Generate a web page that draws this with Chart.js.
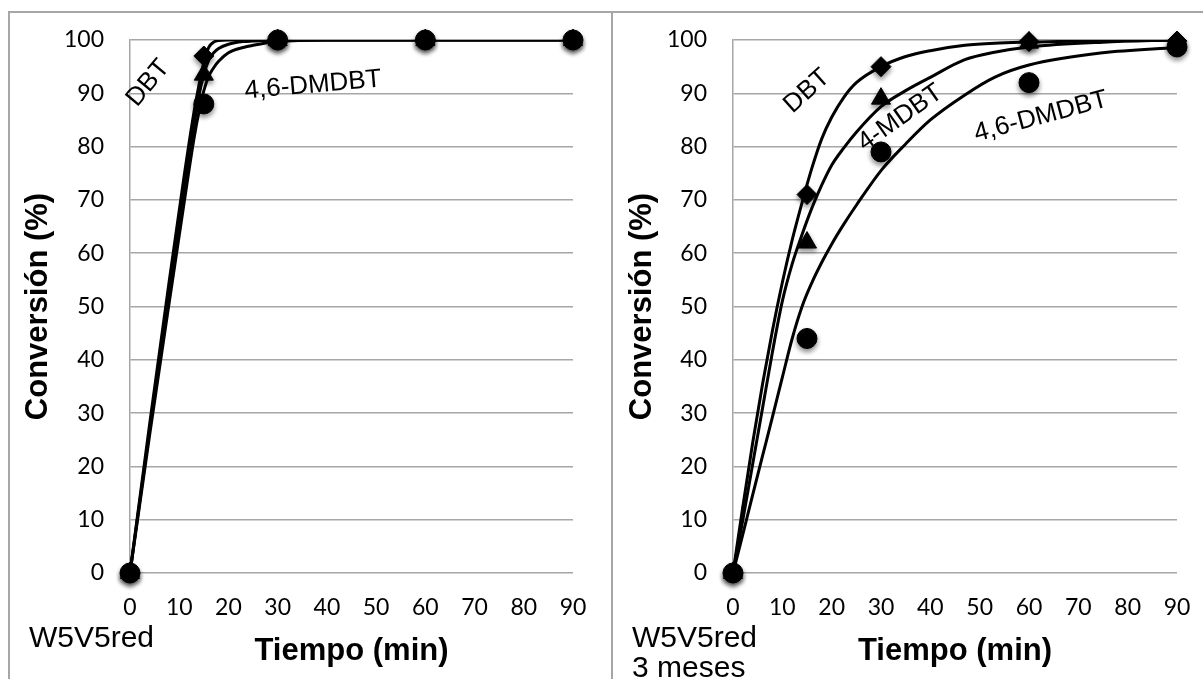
<!DOCTYPE html>
<html>
<head>
<meta charset="utf-8">
<script src="https://cdn.jsdelivr.net/npm/chart.js@4/dist/chart.umd.min.js"></script>
<style>
  body { margin: 0; background: #fff; overflow: hidden; width: 1203px; height: 679px; position: relative; }
  #frame { position: absolute; left: 8px; top: 11px; width: 1300px; height: 700px; border-top: 2px solid #a6a6a6; border-left: 2px solid #a6a6a6; }
  #divider { position: absolute; left: 611px; top: 11px; width: 2px; height: 700px; background: #a6a6a6; }
  #leftWrap { position: absolute; left: 10px; top: 13px; width: 601px; height: 666px; }
  #rightWrap { position: absolute; left: 614px; top: 13px; width: 589px; height: 666px; }
</style>
</head>
<body>
<div id="frame"></div>
<div id="divider"></div>
<div id="leftWrap"><canvas id="leftChart"></canvas></div>
<div id="rightWrap"><canvas id="rightChart"></canvas></div>
<script>
// measured times (min)
const markTimes = [0, 15, 30, 60, 90];
const yTicks = [0, 10, 20, 30, 40, 50, 60, 70, 80, 90, 100];
const xTicks = [0, 10, 20, 30, 40, 50, 60, 70, 80, 90];

// W5V5red - measured conversion (%)
const leftDBT = [0, 97, 100, 100, 100];
const leftMDBT = [0, 93.5, 100, 100, 100];
const leftDMDBT = [0, 88, 100, 100, 100];

// W5V5red - fitted curves
const leftCurveT = [0, 4, 8, 11, 13, 14, 15, 16, 17, 18, 20, 23, 25, 30, 40, 60, 90];
const leftCurveDBT = [0, 28, 55, 74.5, 86.5, 91.5, 95.8, 98.6, 99.6, 99.9, 100, 100, 100, 100, 100, 100, 100];
const leftCurveMDBT = [0, 27, 53, 72, 84, 89.5, 93.5, 96.2, 97.6, 98.4, 99.2, 99.7, 99.8, 100, 100, 100, 100];
const leftCurveDMDBT = [0, 26, 51, 69.5, 81.5, 86.5, 90.5, 93.2, 94.8, 96, 97.6, 98.6, 99, 99.7, 100, 100, 100];

// W5V5red 3 meses - measured conversion (%)
const rightDBT = [0, 71, 95, 99.7, 99.8];
const rightMDBT = [0, 62, 89, 99.5, 99.5];
const rightDMDBT = [0, 44, 79, 92, 98.7];

// W5V5red 3 meses - fitted curves
const rightCurveT = [0, 2, 4, 6, 8, 10, 12, 14, 16, 18, 20, 22.5, 25, 30, 35, 40, 47, 53, 60, 75, 90];
const rightCurveDBT = [0, 12.5, 24.5, 35.5, 45.5, 54.5, 62.5, 69.5, 76, 81.5, 85.5, 89.3, 92, 95, 96.9, 98, 99, 99.4, 99.6, 99.9, 100];
const rightCurveMDBT = [0, 10, 20.5, 31, 41.5, 51, 58, 63.5, 68.5, 72.8, 76.5, 79.8, 82.7, 87.5, 90.5, 93, 96.3, 97.7, 98.7, 99.6, 100];
const rightCurveDMDBT = [0, 7.3, 14.7, 22, 29.3, 36.7, 44, 50, 54.5, 58.3, 61.7, 65.5, 69, 75.5, 80.5, 85, 89.7, 93, 95.3, 97.6, 98.6];

const GRID = '#a6a6a6';
const NOTE_FONT = '26px "Liberation Sans", Arial, sans-serif';

// soft shadow under the markers
const markerShadow = {
  id: 'markerShadow',
  beforeDatasetDraw(chart, args) {
    if (!chart.data.datasets[args.index].isMarker) return;
    const ctx = chart.ctx;
    ctx.save();
    ctx.shadowColor = 'rgba(0,0,0,0.45)';
    ctx.shadowBlur = 5;
    ctx.shadowOffsetY = 3;
  },
  afterDatasetDraw(chart, args) {
    if (chart.data.datasets[args.index].isMarker) chart.ctx.restore();
  }
};

// curve names and the sample label in the corner
const textNotes = {
  id: 'textNotes',
  afterDatasetsDraw(chart, args, o) {
    const ctx = chart.ctx;
    const x = chart.scales.x, y = chart.scales.y;
    (o.labels || []).forEach(l => {
      ctx.save();
      ctx.font = NOTE_FONT;
      ctx.fillStyle = '#000';
      ctx.translate(x.getPixelForValue(l.t), y.getPixelForValue(l.v));
      ctx.rotate(l.angle * Math.PI / 180);
      ctx.textAlign = 'center';
      ctx.textBaseline = 'middle';
      ctx.fillText(l.text, 0, 0);
      ctx.restore();
    });
    ctx.save();
    ctx.font = '30px "Liberation Sans", Arial, sans-serif';
    ctx.fillStyle = '#000';
    ctx.textAlign = 'left';
    ctx.textBaseline = 'alphabetic';
    (o.corner || []).forEach((line, i) => ctx.fillText(line, o.cornerX, o.cornerY + i * 30));
    ctx.restore();
  }
};

function buildChart(id, cfg) {
  const datasets = [];
  cfg.series.forEach(s => {
    datasets.push({
      data: cfg.curveT.map((t, i) => ({ x: t, y: s.curve[i] })),
      showLine: true,
      pointRadius: 0,
      pointHoverRadius: 0,
      borderColor: '#000',
      borderWidth: 3,
      cubicInterpolationMode: 'monotone',
      order: 1
    });
    datasets.push({
      data: markTimes.map((t, i) => ({ x: t, y: s.marks[i] })),
      showLine: false,
      pointStyle: s.style,
      pointRadius: s.radius,
      backgroundColor: '#000',
      borderColor: '#000',
      borderWidth: 1,
      clip: false,
      isMarker: true,
      order: 0
    });
  });

  return new Chart(document.getElementById(id), {
    type: 'scatter',
    data: { datasets },
    plugins: [markerShadow, textNotes],
    options: {
      responsive: true,
      maintainAspectRatio: false,
      animation: false,
      events: [],
      layout: { autoPadding: false, padding: { top: 27, right: cfg.padRight, bottom: 0, left: 0 } },
      plugins: {
        legend: { display: false },
        tooltip: { enabled: false },
        textNotes: { labels: cfg.labels, corner: cfg.corner, cornerX: cfg.cornerX, cornerY: 634 }
      },
      scales: {
        x: {
          type: 'linear',
          min: 0,
          max: 90,
          afterFit: s => { s.height = 106; s.paddingLeft = 0; s.paddingRight = 0; },
          afterBuildTicks: s => { s.ticks = xTicks.map(v => ({ value: v })); },
          grid: { display: false, drawTicks: false },
          border: { display: false },
          ticks: { padding: 21, color: '#000', font: { family: 'Lato', size: 23 }, maxRotation: 0 },
          title: {
            display: true,
            text: 'Tiempo (min)',
            color: '#000',
            font: { family: '"Liberation Sans", Arial', size: 31, weight: 'bold' },
            padding: { top: 0, bottom: 9 }
          }
        },
        y: {
          min: 0,
          max: 100,
          afterFit: s => { s.width = cfg.yWidth; s.paddingTop = 0; s.paddingBottom = 0; },
          afterBuildTicks: s => { s.ticks = yTicks.map(v => ({ value: v })); },
          grid: { color: GRID, lineWidth: 1.5, drawTicks: false },
          border: { display: true, color: GRID, width: 1.5 },
          ticks: { padding: 26, color: '#000', font: { family: 'Lato', size: 23 } },
          title: {
            display: true,
            text: 'Conversión (%)',
            color: '#000',
            font: { family: '"Liberation Sans", Arial', size: 31, weight: 'bold' },
            padding: { top: 10, bottom: 0 }
          }
        }
      }
    }
  });
}

buildChart('leftChart', {
  curveT: leftCurveT,
  yWidth: 120,
  padRight: 38,
  series: [
    { curve: leftCurveDBT, marks: leftDBT, style: 'rectRot', radius: 10 },
    { curve: leftCurveMDBT, marks: leftMDBT, style: 'triangle', radius: 11 },
    { curve: leftCurveDMDBT, marks: leftDMDBT, style: 'circle', radius: 10 }
  ],
  labels: [
    { text: 'DBT', t: 3.7, v: 91.9, angle: -50 },
    { text: '4,6-DMDBT', t: 37.2, v: 91.5, angle: -5 }
  ],
  corner: ['W5V5red'],
  cornerX: 19
});

buildChart('rightChart', {
  curveT: rightCurveT,
  yWidth: 119,
  padRight: 26,
  series: [
    { curve: rightCurveDBT, marks: rightDBT, style: 'rectRot', radius: 10 },
    { curve: rightCurveMDBT, marks: rightMDBT, style: 'triangle', radius: 11 },
    { curve: rightCurveDMDBT, marks: rightDMDBT, style: 'circle', radius: 10 }
  ],
  labels: [
    { text: 'DBT', t: 15.0, v: 90.4, angle: -42 },
    { text: '4-MDBT', t: 33.9, v: 85.4, angle: -35 },
    { text: '4,6-DMDBT', t: 62.4, v: 85.6, angle: -15 }
  ],
  corner: ['W5V5red', '3 meses'],
  cornerX: 18
});
</script>
</body>
</html>
